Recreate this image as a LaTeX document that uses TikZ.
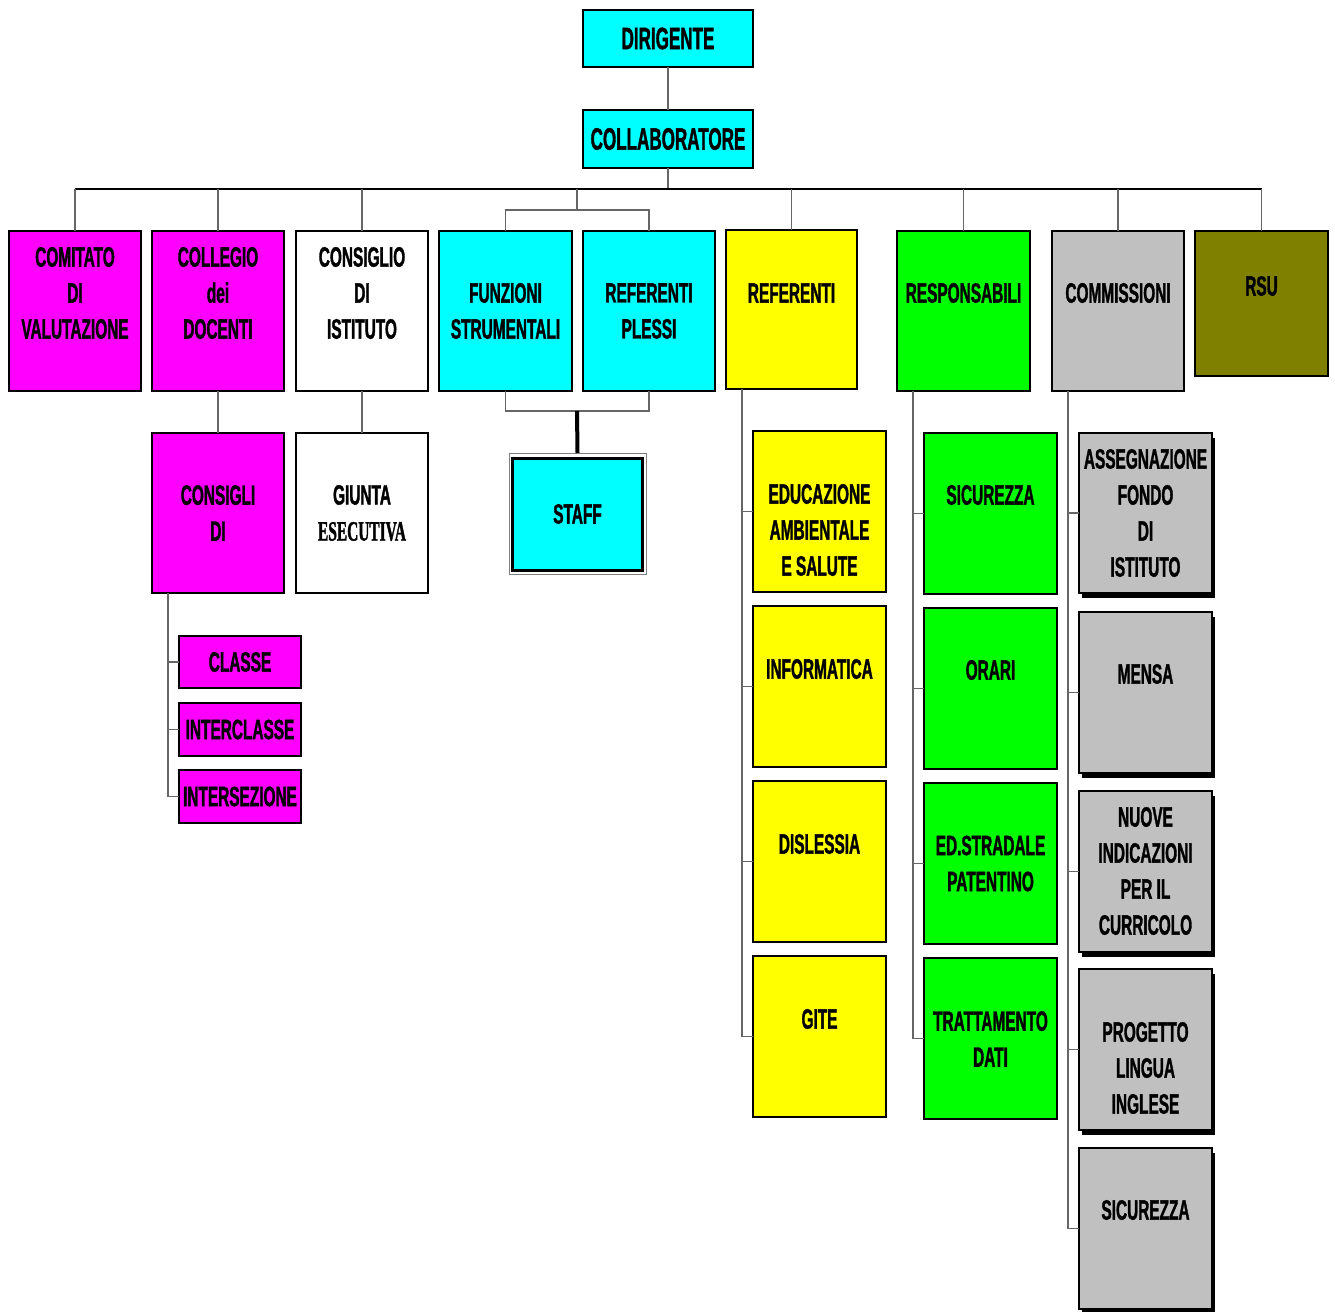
\documentclass[tikz,border=0pt]{standalone}
\usepackage{fontspec}
\setmainfont{Liberation Sans}[FakeStretch=0.55, BoldFeatures={FakeBold=1.2}]
\newfontfamily\serifbf{Liberation Serif}[FakeStretch=0.55, BoldFeatures={FakeBold=1.2}]
\definecolor{cmag}{RGB}{255,0,255}
\definecolor{ccyan}{RGB}{0,255,255}
\definecolor{cyel}{RGB}{255,255,0}
\definecolor{cgreen}{RGB}{0,255,0}
\definecolor{cgray}{RGB}{192,192,192}
\definecolor{colive}{RGB}{128,128,0}
\tikzset{
  box/.style={draw=black, line width=1.5pt, inner sep=0pt, outer sep=0pt},
  magbox/.style={box, fill=cmag},
  cyanbox/.style={box, fill=ccyan},
  whitebox/.style={box, fill=white},
  yelbox/.style={box, fill=cyel},
  greenbox/.style={box, fill=cgreen},
  olivebox/.style={box, fill=colive},
  graybox/.style={box, fill=cgray, preaction={fill=black, transform canvas={xshift=3pt, yshift=-5pt}}},
  conn/.style={draw=black!60, line width=1.5pt},
  bus/.style={draw=black, line width=2pt},
  txt/.style={align=center, font=\bfseries\fontsize{28}{36}\selectfont, inner sep=0pt}
}
% name, x1, y1, x2, y2, style, text y, text
\newcommand\mybox[8]{%
  \node[#6, minimum width={#4-#2}, minimum height={#5-#3}] (#1) at ({(#2+#4)/2},{(#3+#5)/2}) {};
  \node[txt] (#1-t) at ({(#2+#4)/2},#7) {#8};}
\begin{document}
\begin{tikzpicture}[x=1pt, y=-1pt]
\useasboundingbox (0,0) rectangle (1335,1311);
% top
\mybox{dir}{583}{10}{753}{67}{cyanbox}{38.5}{\fontsize{31}{36}\selectfont DIRIGENTE}
\mybox{col}{583}{110}{753}{168}{cyanbox}{139}{\fontsize{31}{36}\selectfont COLLABORATORE}
% first row
\mybox{com}{9}{231}{141}{391}{magbox}{293}{COMITATO\\DI\\VALUTAZIONE}
\mybox{coll}{152}{231}{284}{391}{magbox}{293}{COLLEGIO\\dei\\DOCENTI}
\mybox{cons}{296}{231}{428}{391}{whitebox}{293}{CONSIGLIO\\DI\\ISTITUTO}
\mybox{funz}{439}{231}{572}{391}{cyanbox}{311}{FUNZIONI\\STRUMENTALI}
\mybox{refp}{583}{231}{715}{391}{cyanbox}{311}{REFERENTI\\PLESSI}
\mybox{ref}{726}{230}{857}{389}{yelbox}{293}{REFERENTI}
\mybox{resp}{897}{231}{1030}{391}{greenbox}{293}{RESPONSABILI}
\mybox{comm}{1052}{231}{1184}{391}{box, fill=cgray}{293}{COMMISSIONI}
\mybox{rsu}{1195}{231}{1328}{376}{olivebox}{286}{RSU}
% second row
\mybox{cdi}{152}{433}{284}{593}{magbox}{513}{CONSIGLI\\DI}
\mybox{giu}{296}{433}{428}{593}{whitebox}{513}{GIUNTA\\{\serifbf ESECUTIVA}}
\mybox{cla}{179}{636}{301}{688}{magbox}{662}{CLASSE}
\mybox{intc}{179}{703}{301}{756}{magbox}{729.5}{INTERCLASSE}
\mybox{ints}{179}{770}{301}{823}{magbox}{796.5}{INTERSEZIONE}
% staff
\node[draw=black!50, line width=1pt, fill=white, inner sep=0pt, outer sep=0pt, minimum width=137, minimum height=121] (staffo) at (577.5,513.5) {};
\mybox{staff}{512.5}{458}{642.5}{570}{box, line width=3pt, fill=ccyan}{514}{STAFF}
% referenti children
\mybox{edu}{753}{431}{886}{592}{yelbox}{530}{EDUCAZIONE\\AMBIENTALE\\E SALUTE}
\mybox{inf}{753}{606}{886}{767}{yelbox}{669}{INFORMATICA}
\mybox{dis}{753}{781}{886}{942}{yelbox}{844}{DISLESSIA}
\mybox{gite}{753}{956}{886}{1117}{yelbox}{1019}{GITE}
% responsabili children
\mybox{sic}{924}{433}{1057}{594}{greenbox}{495}{SICUREZZA}
\mybox{ora}{924}{608}{1057}{769}{greenbox}{670}{ORARI}
\mybox{eds}{924}{783}{1057}{944}{greenbox}{863.5}{ED.STRADALE\\PATENTINO}
\mybox{tra}{924}{958}{1057}{1119}{greenbox}{1039}{TRATTAMENTO\\DATI}
% commissioni children
\mybox{ass}{1079}{433}{1212}{593}{graybox}{513}{ASSEGNAZIONE\\FONDO\\DI\\ISTITUTO}
\mybox{men}{1079}{612}{1212}{773}{graybox}{674}{MENSA}
\mybox{nuo}{1079}{791}{1212}{952}{graybox}{871}{NUOVE\\INDICAZIONI\\PER IL\\CURRICOLO}
\mybox{pro}{1079}{969}{1212}{1130}{graybox}{1068}{PROGETTO\\LINGUA\\INGLESE}
\mybox{sic2}{1079}{1148}{1212}{1309}{graybox}{1210}{SICUREZZA}
% connectors
\coordinate (busL) at (75,189);
\coordinate (busR) at (1261.5,189);
\coordinate (fj) at (577,210);
\coordinate (sj) at (577,411);
\coordinate (t1) at (168,593);
\coordinate (t2) at (742,389);
\coordinate (t3) at (913,391);
\coordinate (t4) at (1068,391);
\draw[conn] (dir) -- (col);
\draw[conn] (col) -- (col |- busL);
\draw[bus] (busL) -- (busR);
\foreach \n in {com,coll,cons,ref,resp,comm,rsu} \draw[conn] (\n.north) -- (\n.north |- busL);
\draw[conn] (fj) -- (fj |- busL);
\draw[conn] (funz.north) |- (fj) -| (refp.north);
\draw[conn] (funz.south) |- (sj) -| (refp.south);
\draw[draw=black, line width=4pt] (sj) -- (staffo.north);
\draw[conn] (coll) -- (cdi);
\draw[conn] (cons) -- (giu);
\foreach \n in {cla,intc,ints} \draw[conn] (t1) |- (\n.west);
\foreach \n in {edu,inf,dis,gite} \draw[conn] (t2) |- (\n.west);
\foreach \n in {sic,ora,eds,tra} \draw[conn] (t3) |- (\n.west);
\foreach \n in {ass,men,nuo,pro,sic2} \draw[conn] (t4) |- (\n.west);
\end{tikzpicture}
\end{document}
